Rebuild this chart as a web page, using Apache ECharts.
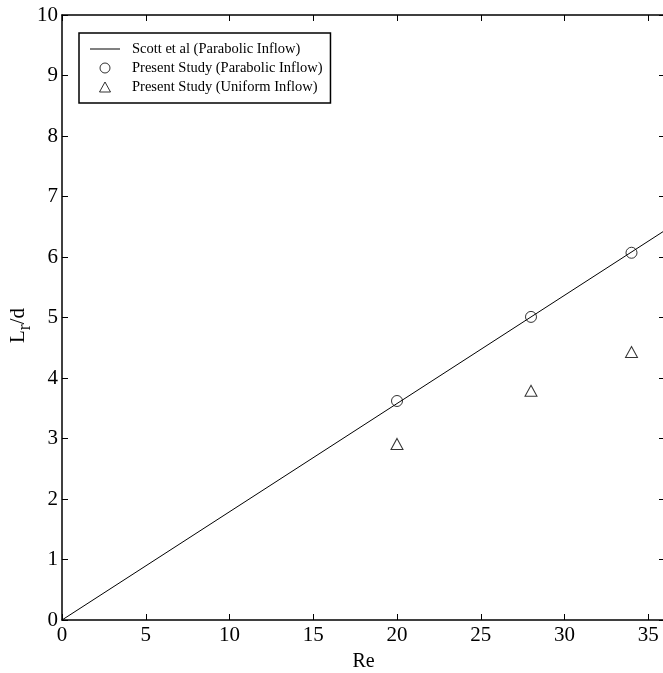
<!DOCTYPE html>
<html>
<head>
<meta charset="utf-8">
<script src="https://cdn.jsdelivr.net/npm/echarts@6/dist/echarts.min.js"></script>
<style>
  html, body { margin: 0; padding: 0; background: #fff; }
  #chart { width: 663px; height: 673px; }
</style>
</head>
<body>
<div id="chart"></div>
<script>
// Scott et al correlation line (endpoints)
const scottLine = [[0, 0], [36, 6.44]];
// Present study, parabolic inflow
const reynolds = [20, 28, 34];
const parabolic = [3.62, 5.01, 6.07];
// Present study, uniform inflow
const uniform = [2.91, 3.79, 4.43];

const xTicks = { min: 0, max: 36, interval: 5 };
const yTicks = { min: 0, max: 10, interval: 1 };

const font = 'Liberation Serif';
const black = '#000';

const axisBase = {
  type: 'value',
  axisLine: { show: true, onZero: false, lineStyle: { color: black, width: 1.5 } },
  axisTick: { show: true, inside: true, length: 6, lineStyle: { color: black } },
  splitLine: { show: false },
};

const openMarker = { color: 'transparent', borderColor: black, borderWidth: 1 };

const chart = echarts.init(document.getElementById('chart'));
chart.setOption({
  backgroundColor: '#fff',
  animation: false,
  textStyle: { fontFamily: font, color: black },
  grid: { left: 62, top: 15, width: 603, height: 605, outerBoundsMode: 'none', containLabel: false },
  legend: {
    orient: 'vertical',
    left: 79,
    top: 33,
    padding: [8, 8, 8, 11],
    itemGap: 3,
    itemWidth: 30,
    itemHeight: 10,
    symbolKeepAspect: true,
    borderColor: black,
    borderWidth: 1.5,
    backgroundColor: '#fff',
    textStyle: { fontFamily: font, fontSize: 14.5, lineHeight: 16, color: black, padding: [0, 0, 0, 7] },
    data: [
      {
        name: 'Scott et al (Parabolic Inflow)',
        icon: 'path://M0,0L30,0L30,1L0,1Z',
        itemStyle: { color: black, borderWidth: 0 },
      },
      {
        name: 'Present Study (Parabolic Inflow)',
        icon: 'circle',
        itemStyle: openMarker,
      },
      {
        name: 'Present Study (Uniform Inflow)',
        icon: 'path://M0,10L5.5,0L11,10Z',
        itemStyle: openMarker,
      },
    ],
  },
  xAxis: [
    {
      ...axisBase,
      ...xTicks,
      position: 'bottom',
      name: 'Re',
      nameLocation: 'middle',
      nameGap: 32,
      nameMoveOverlap: false,
      nameTextStyle: { fontFamily: font, fontSize: 20, color: black },
      axisLabel: { fontFamily: font, fontSize: 21, color: black, margin: 5, showMaxLabel: false },
    },
    {
      ...axisBase,
      ...xTicks,
      position: 'top',
      axisLabel: { show: false },
    },
  ],
  yAxis: [
    {
      ...axisBase,
      ...yTicks,
      position: 'left',
      name: 'L{sub|r}/d',
      nameLocation: 'middle',
      nameGap: 28,
      nameRotate: 90,
      nameMoveOverlap: false,
      nameTextStyle: {
        fontFamily: font,
        fontSize: 21,
        color: black,
        padding: [0, 16, 0, 0],
        rich: { sub: { fontFamily: font, fontSize: 18, color: black, verticalAlign: 'bottom', padding: [14, 0, 0, 0] } },
      },
      axisLabel: { fontFamily: font, fontSize: 21, color: black, margin: 4 },
    },
    {
      ...axisBase,
      ...yTicks,
      position: 'right',
      axisLabel: { show: false },
    },
  ],
  series: [
    {
      name: 'Scott et al (Parabolic Inflow)',
      type: 'line',
      data: scottLine,
      symbol: 'none',
      lineStyle: { color: black, width: 1 },
      itemStyle: { color: black },
    },
    {
      name: 'Present Study (Parabolic Inflow)',
      type: 'scatter',
      data: reynolds.map((re, i) => [re, parabolic[i]]),
      symbol: 'circle',
      symbolSize: 11,
      itemStyle: openMarker,
    },
    {
      name: 'Present Study (Uniform Inflow)',
      type: 'scatter',
      data: reynolds.map((re, i) => [re, uniform[i]]),
      symbol: 'triangle',
      symbolSize: [12, 11],
      itemStyle: openMarker,
    },
  ],
});
</script>
</body>
</html>
